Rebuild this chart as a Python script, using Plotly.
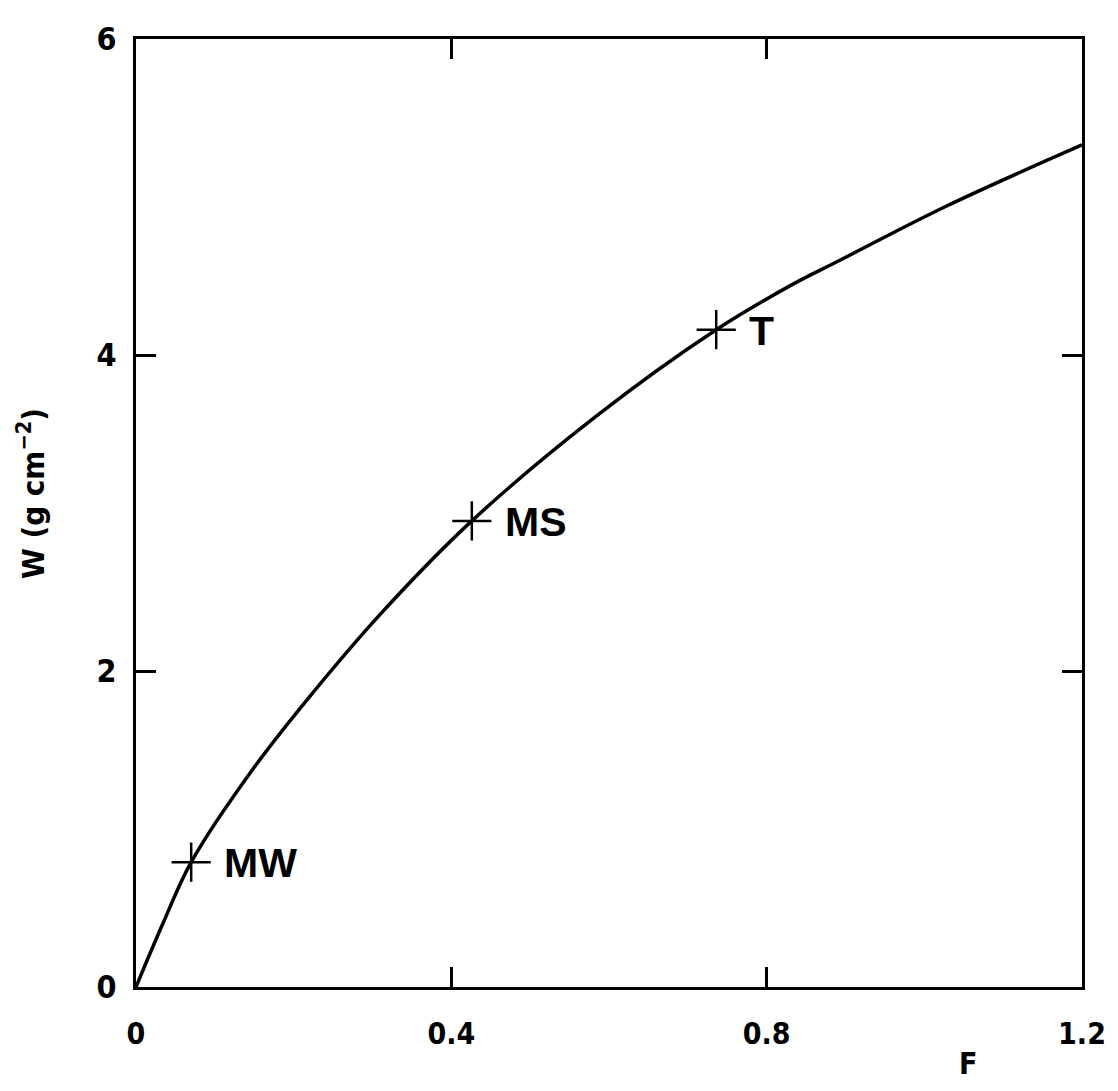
import plotly.graph_objects as go

# Curve W(F)
curve_F = [0.0, 0.034, 0.070, 0.147, 0.219, 0.310, 0.426, 0.583, 0.736, 0.834, 0.893, 1.027, 1.2]
curve_W = [0.0, 0.40, 0.79, 1.37, 1.83, 2.36, 2.95, 3.61, 4.16, 4.45, 4.60, 4.94, 5.33]

# Marked points
point_names = ["MW", "MS", "T"]
point_F = [0.070, 0.426, 0.736]
point_W = [0.79, 2.95, 4.16]

x_ticks = [0, 0.4, 0.8, 1.2]
x_tick_labels = ["0", "0.4", "0.8", "1.2"]
y_ticks = [0, 2, 4, 6]
y_tick_labels = ["0", "2", "4", "6"]

TICKFONT = "DejaVu Sans Condensed, Liberation Sans Narrow, Arial Narrow, sans-serif"
LABELFONT = "Liberation Sans, Arial, Helvetica, sans-serif"

fig = go.Figure()
fig.add_trace(go.Scatter(
    x=curve_F, y=curve_W, mode="lines",
    line=dict(color="black", width=3.5, shape="spline", smoothing=1.0),
    hoverinfo="skip", showlegend=False, cliponaxis=True,
))
fig.add_trace(go.Scatter(
    x=point_F, y=point_W, mode="markers",
    marker=dict(symbol="cross-thin", size=28, color="black",
                line=dict(color="black", width=2.5)),
    showlegend=False,
))

for name, f, w in zip(point_names, point_F, point_W):
    fig.add_annotation(
        x=f, y=w, xref="x", yref="y", text=name, showarrow=False,
        xanchor="left", yanchor="middle", xshift=31, yshift=-1,
        font=dict(family=LABELFONT, size=41, color="black", weight="bold"),
    )

fig.add_annotation(
    x=0.879, y=-0.081, xref="paper", yref="paper", text="F", showarrow=False,
    xanchor="center", yanchor="middle",
    font=dict(family=TICKFONT, size=30, color="black", weight="bold"),
)
fig.add_annotation(
    x=-0.111, y=0.521, xref="paper", yref="paper", text="W (g cm<sup>−2</sup>)",
    showarrow=False, textangle=-90, xanchor="center", yanchor="middle",
    font=dict(family=TICKFONT, size=31, color="black", weight="bold"),
)

axis_common = dict(
    showgrid=False, zeroline=False,
    showline=True, linecolor="black", linewidth=3, mirror="ticks",
    ticks="inside", ticklen=20, tickwidth=2.5, tickcolor="black",
)

fig.update_xaxes(
    range=[0, 1.2], tickmode="array", tickvals=x_ticks, ticktext=x_tick_labels,
    tickfont=dict(family=TICKFONT, size=30, color="black", weight="bold"),
    ticklabelstandoff=18, **axis_common,
)
fig.update_yaxes(
    range=[0, 6], tickmode="array", tickvals=y_ticks, ticktext=y_tick_labels,
    tickfont=dict(family=TICKFONT, size=32, color="black", weight="bold"),
    ticklabelstandoff=10, **axis_common,
)

fig.update_layout(
    width=1110, height=1087,
    margin=dict(l=128, r=25, t=19, b=108),
    paper_bgcolor="white", plot_bgcolor="white",
    showlegend=False,
)

fig.write_html("out.html")
